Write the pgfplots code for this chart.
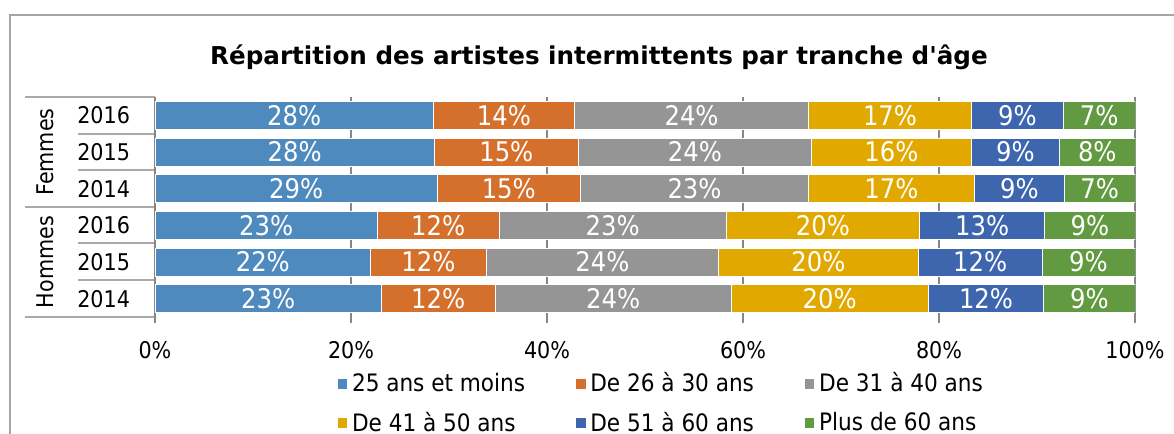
\documentclass[border=0pt]{standalone}
\usepackage{pgfplots}
\pgfplotsset{compat=1.18}
\usepackage{pgfplotstable}
\usepackage{fontspec}
\setmainfont{DejaVu Sans Condensed}
\newfontfamily\titlefont{DejaVu Sans}
\definecolor{cA}{RGB}{79,138,190}
\definecolor{cB}{RGB}{212,112,43}
\definecolor{cC}{RGB}{149,149,149}
\definecolor{cD}{RGB}{225,169,0}
\definecolor{cE}{RGB}{62,102,174}
\definecolor{cF}{RGB}{97,154,65}
\definecolor{gridc}{RGB}{134,134,134}
\definecolor{framec}{RGB}{165,165,165}
\definecolor{linec}{RGB}{170,170,170}

% y: 0=Hommes 2014, 1=Hommes 2015, 2=Hommes 2016, 3=Femmes 2014, 4=Femmes 2015, 5=Femmes 2016
\pgfplotstableread{
y a la b lb c lc d ld e le f lf
0 23.1 23 11.6 12 24.1 24 20.1 20 11.8 12 9.3 9
1 22.0 22 11.8 12 23.7 24 20.4 20 12.6 12 9.5 9
2 22.7 23 12.4 12 23.2 23 19.7 20 12.8 13 9.2 9
3 28.8 29 14.6 15 23.3 23 16.9 17 9.2 9 7.2 7
4 28.5 28 14.7 15 23.8 24 16.3 16 9.0 9 7.7 8
5 28.4 28 14.4 14 23.9 24 16.6 17 9.4 9 7.3 7
}\data

\begin{document}
\begin{tikzpicture}
\useasboundingbox (0,0) rectangle (587pt,217pt);
\begin{scope}[shift={(0pt,217pt)}, x=0.5pt, y=-0.5pt]
% chart frame
\draw[framec, line width=0.9pt] (10,434) -- (10,15) -- (1174,15);
% title
\node[font=\titlefont\bfseries\fontsize{12.3}{14}\selectfont] at (599,57) {Répartition des artistes intermittents par tranche d'âge};
% category table lines
\draw[linec, line width=0.6pt] (25,97) -- (155,97);
\draw[linec, line width=0.6pt] (25,207) -- (155,207);
\draw[linec, line width=0.6pt] (25,317) -- (155,317);
\foreach \yy in {134,170,243,280} \draw[linec, line width=0.6pt] (78,\yy) -- (155,\yy);
\node[rotate=90, font=\fontsize{11.5}{13}\selectfont] at (45,152) {Femmes};
\node[rotate=90, font=\fontsize{11.5}{13}\selectfont] at (45,262) {Hommes};
\end{scope}

\begin{axis}[
  at={(77.5pt,58.5pt)}, anchor=south west,
  scale only axis, width=490pt, height=110pt,
  xbar stacked, bar width=14pt,
  xmin=0, xmax=100, ymin=-0.5, ymax=5.5,
  axis line style={draw=none},
  /pgf/number format/assume math mode=true,
  xtick={0,20,...,100},
  xticklabel={\pgfmathprintnumber{\tick}\%},
  xticklabel style={font=\fontsize{11.5}{13}\selectfont, yshift=-5.5pt},
  xmajorgrids, grid style={gridc, line width=0.6pt},
  x tick style={gridc, line width=0.6pt},
  tick align=outside, tick pos=left, major tick length=3pt,
  ytick={0,...,5}, yticklabels={2014,2015,2016,2014,2015,2016},
  y tick style={draw=none},
  yticklabel style={font=\fontsize{11.5}{13}\selectfont, xshift=-6pt},
  point meta=explicit,
  nodes near coords={\pgfmathprintnumber{\pgfplotspointmeta}\%},
  every node near coord/.append style={white, font=\fontsize{13.5}{15}\selectfont},
  legend columns=3,
  legend cell align=left,
  legend style={draw=none, fill=none, at={(0.179,-0.215)}, anchor=north west,
    font=\fontsize{12}{13}\selectfont, row sep=4.5pt,
    /tikz/every even column/.append style={column sep=23pt}},
  legend image code/.code={\fill[#1] (0pt,-2.6pt) rectangle (5.2pt,2.6pt);},
]
\addplot[fill=cA, draw=white, line width=0.4pt] table[x=a, y=y, meta=la] {\data};
\addplot[fill=cB, draw=white, line width=0.4pt] table[x=b, y=y, meta=lb] {\data};
\addplot[fill=cC, draw=white, line width=0.4pt] table[x=c, y=y, meta=lc] {\data};
\addplot[fill=cD, draw=white, line width=0.4pt] table[x=d, y=y, meta=ld] {\data};
\addplot[fill=cE, draw=white, line width=0.4pt] table[x=e, y=y, meta=le] {\data};
\addplot[fill=cF, draw=white, line width=0.4pt] table[x=f, y=y, meta=lf] {\data};
\legend{25 ans et moins, De 26 à 30 ans, De 31 à 40 ans, De 41 à 50 ans, De 51 à 60 ans, Plus de 60 ans}
\end{axis}
\end{tikzpicture}
\end{document}
